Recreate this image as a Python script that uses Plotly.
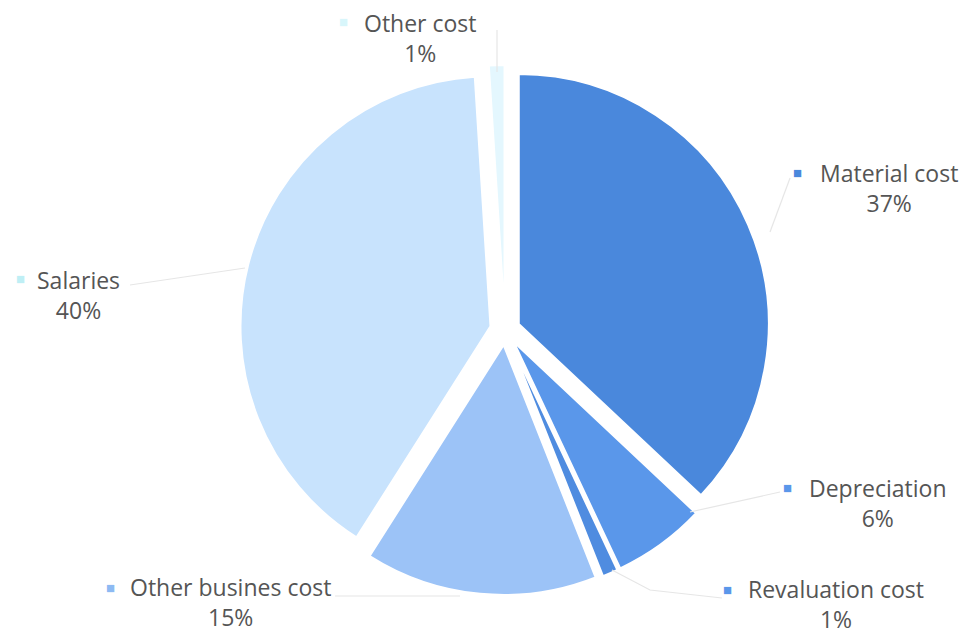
import plotly.graph_objects as go

categories = ["Material cost", "Depreciation", "Revaluation cost",
              "Other busines cost", "Salaries", "Other cost"]
values = [37, 6, 1, 15, 40, 1]
colors = ["#4a88dc", "#5a97ea", "#4f8ce0", "#9cc3f7", "#c8e3fd", "#e4f7fe"]
square_colors = ["#4a88dc", "#5a97ea", "#5a97ea", "#8dbaf3", "#bfeff5", "#d8f6fb"]

W, H = 963, 634

# label text centres and marker positions (pixels)
text_pos = [(889, 188), (878, 503), (836, 604), (230, 602), (78, 295), (420, 38)]
marker_pos = [(797, 172), (787, 487), (727, 589), (110, 587), (20, 278), (343, 21)]

fig = go.Figure()
fig.add_trace(go.Pie(
    labels=categories, values=values, sort=False, direction="clockwise",
    rotation=0, pull=[0.06] * len(values),
    marker=dict(colors=colors, line=dict(color="white", width=2)),
    textinfo="none", hoverinfo="label+percent", showlegend=False,
    domain=dict(x=[240 / W, 770 / W], y=[(H - 595) / H, (H - 65) / H]),
))

# leader lines (pixels -> paper)
leaders = [
    [(770, 232), (790, 178)],
    [(690, 512), (780, 492)],
    [(612, 570), (650, 590), (722, 598)],
    [(460, 596), (335, 596)],
    [(245, 268), (130, 285)],
    [(497, 72), (497, 30)],
]
for pts in leaders:
    path = "M " + " L ".join(f"{x / W:.4f},{1 - y / H:.4f}" for x, y in pts)
    fig.add_shape(type="path", path=path, xref="paper", yref="paper",
                  line=dict(color="#e6e6e6", width=1.2))

for cat, val, (tx, ty), (mx, my), sc in zip(categories, values, text_pos,
                                             marker_pos, square_colors):
    fig.add_annotation(
        x=tx / W, y=1 - ty / H, xref="paper", yref="paper", showarrow=False,
        xanchor="center", yanchor="middle",
        text=f"{cat}<br>{val}%",
        font=dict(family="Open Sans, Noto Sans, sans-serif", size=23, color="#555555"),
        align="center",
    )
    fig.add_annotation(
        x=mx / W, y=1 - my / H, xref="paper", yref="paper", showarrow=False,
        xanchor="center", yanchor="middle", text="■",
        font=dict(size=15, color=sc),
    )

fig.update_layout(
    width=W, height=H, margin=dict(l=0, r=0, t=0, b=0),
    paper_bgcolor="white", plot_bgcolor="white",
)
fig.write_html("out.html")
